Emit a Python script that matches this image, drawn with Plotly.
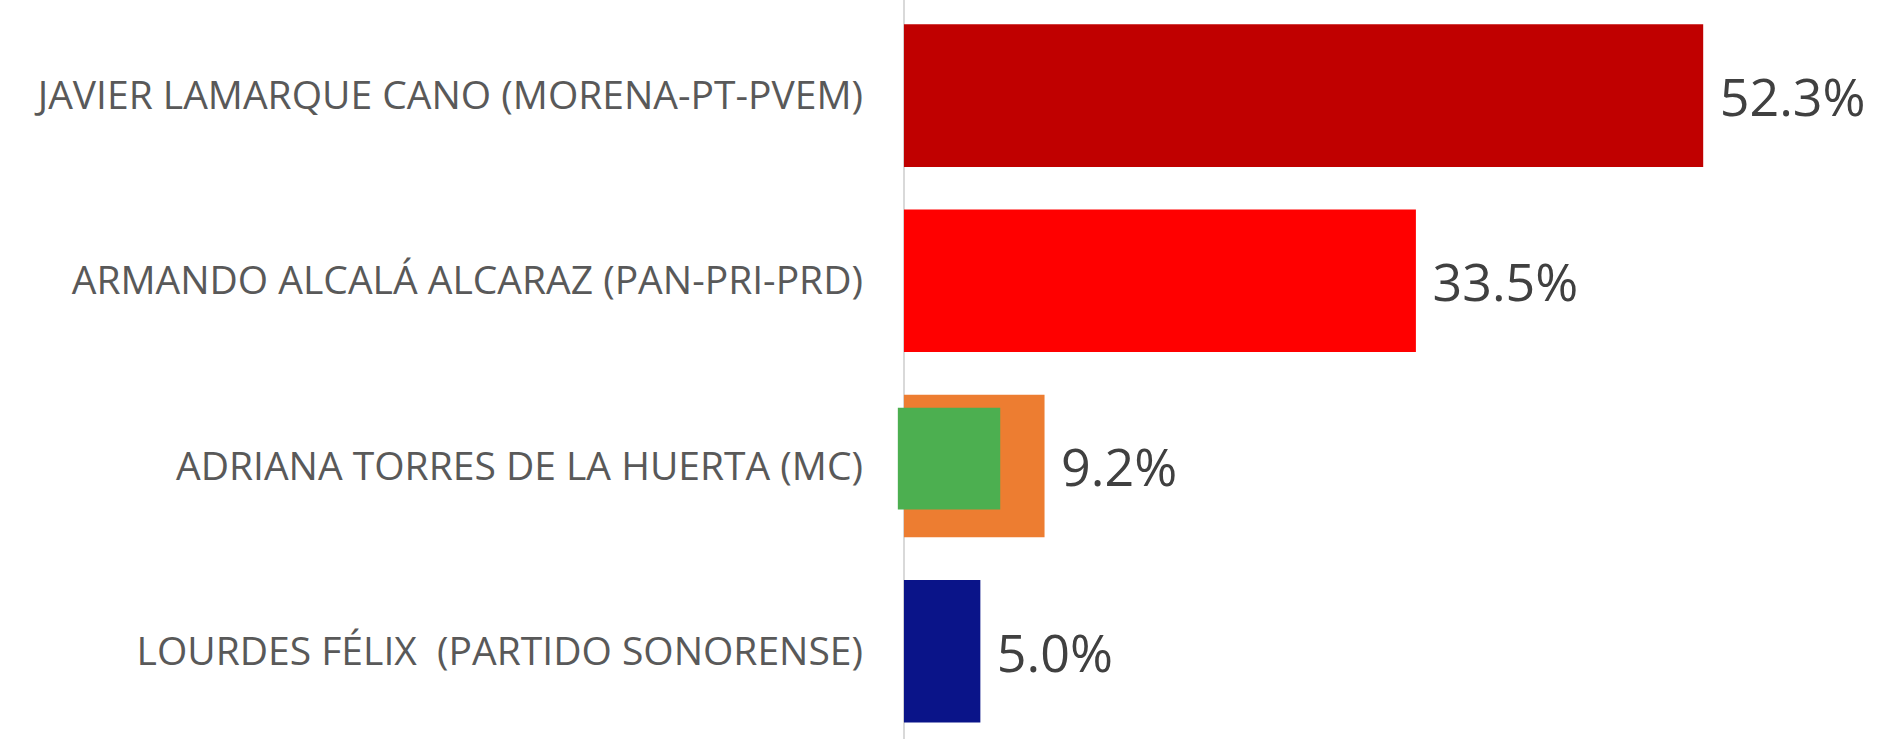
import plotly.graph_objects as go

candidates = [
    "JAVIER LAMARQUE CANO (MORENA-PT-PVEM)",
    "ARMANDO ALCALÁ ALCARAZ (PAN-PRI-PRD)",
    "ADRIANA TORRES DE LA HUERTA (MC)",
    "LOURDES FÉLIX  (PARTIDO SONORENSE)",
]
values = [52.3, 33.5, 9.2, 5.0]
colors = ["#C00000", "#FF0000", "#ED7D31", "#0A1489"]

# green square marker overlaid on the MC bar (start / end in % units)
marker_category = ["ADRIANA TORRES DE LA HUERTA (MC)"]
marker_start = [-0.4]
marker_end = [6.3]

fig = go.Figure()
fig.add_trace(go.Bar(
    y=candidates, x=values, orientation="h",
    marker=dict(color=colors, line=dict(width=0)),
    width=0.77,
    text=values, texttemplate=" %{x:.1f}%", textposition="outside",
    textfont=dict(family="Open Sans", size=52, color="#404040"),
    constraintext="none", cliponaxis=False, showlegend=False,
))
fig.add_trace(go.Bar(
    y=marker_category,
    x=[e - s for s, e in zip(marker_start, marker_end)],
    base=marker_start, orientation="h",
    marker=dict(color="#4CAF50", line=dict(width=0)),
    width=0.55, offset=-0.315,
    showlegend=False, cliponaxis=False,
))

fig.update_layout(
    width=1885, height=739,
    margin=dict(l=896, r=3, t=0, b=0),
    barmode="overlay",
    plot_bgcolor="white", paper_bgcolor="white",
    font=dict(family="Open Sans", color="#595959"),
)
fig.update_xaxes(range=[-0.52, 64.0], showgrid=False,
                 zeroline=True, zerolinecolor="#D9D9D9", zerolinewidth=2,
                 showticklabels=False, showline=False)
fig.update_yaxes(type="category", categoryorder="array", categoryarray=candidates,
                 range=[3.474, -0.516], showgrid=False, zeroline=False,
                 showline=False, ticks="", ticklabelstandoff=32,
                 tickfont=dict(family="Open Sans", size=39, color="#595959"))

fig.write_html("out.html", config={"displayModeBar": False},
               post_script="document.body.style.margin='0';")
